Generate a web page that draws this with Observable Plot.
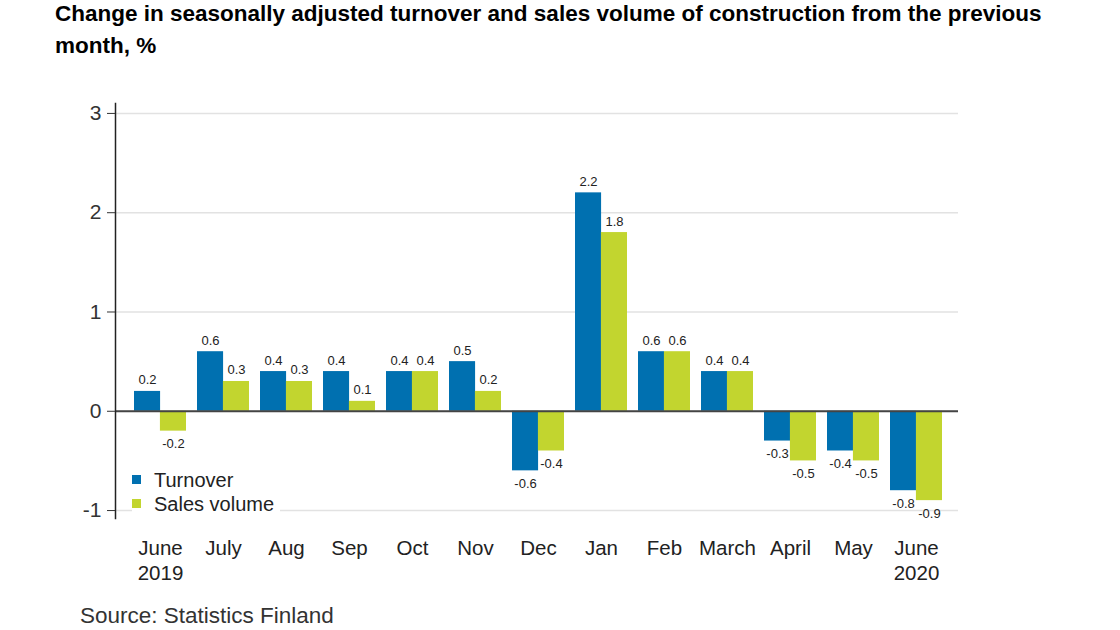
<!DOCTYPE html>
<html>
<head>
<meta charset="utf-8">
<script src="https://cdn.jsdelivr.net/npm/d3@7"></script>
<script src="https://cdn.jsdelivr.net/npm/@observablehq/plot@0.6"></script>
<style>
  html, body { margin: 0; padding: 0; background: #fff; }
  body { width: 1120px; height: 630px; position: relative; overflow: hidden; font-family: "Liberation Sans", Arial, sans-serif; }
  #title { position: absolute; left: 55px; top: -2px; width: 1030px; font-size: 22.5px; font-weight: bold; line-height: 32px; color: #000; }
  #chart { position: absolute; left: 0; top: 80px; }
  #legend { position: absolute; left: 132px; top: 468px; background: #fff; padding: 0 6px 0 0; font-size: 20px; color: #222; line-height: 24px; }
  #legend .sw { display: inline-block; width: 9px; height: 9px; margin-right: 13px; vertical-align: 3px; }
  #source { position: absolute; left: 80px; top: 603px; font-size: 22.5px; color: #333; }
</style>
</head>
<body>
<div id="title">Change in seasonally adjusted turnover and sales volume of construction from the previous month, %</div>
<div id="chart"></div>
<div id="legend"></div>
<div id="source">Source: Statistics Finland</div>
<script>
const months = ["June\n2019", "July", "Aug", "Sep", "Oct", "Nov", "Dec", "Jan", "Feb", "March", "April", "May", "June\n2020"];
const turnover = [0.2, 0.6, 0.4, 0.4, 0.4, 0.5, -0.6, 2.2, 0.6, 0.4, -0.3, -0.4, -0.8];
const salesVolume = [-0.2, 0.3, 0.3, 0.1, 0.4, 0.2, -0.4, 1.8, 0.6, 0.4, -0.5, -0.5, -0.9];
const seriesNames = ["Turnover", "Sales volume"];
const seriesColors = ["#0070b0", "#c2d52f"];
const yTicks = [-1, 0, 1, 2, 3];

const rows = [];
months.forEach((m, i) => {
  rows.push({month: m, series: seriesNames[0], value: turnover[i]});
  rows.push({month: m, series: seriesNames[1], value: salesVolume[i]});
});

const W = 1120, H = 510;
const mL = 115, mR = 162, inL = 6, inR = 4, pad = 0.18;
const step = (W - mL - mR - inL - inR) / (months.length - pad + 2 * pad);
const half = step * (1 - pad) / 2;

const isT = d => d.series === seriesNames[0];
const tRows = rows.filter(isT), sRows = rows.filter(d => !isT(d));

const fmt = v => v.toFixed(1);
const lbl = {fontSize: 13, fill: "#222"};

const chart = Plot.plot({
  width: W,
  height: H,
  marginLeft: mL,
  marginRight: mR,
  marginTop: 23,
  marginBottom: 72,
  insetLeft: inL,
  insetRight: inR,
  style: {fontFamily: "'Liberation Sans', Arial, sans-serif", background: "#fff"},
  x: {domain: months, padding: pad, label: null},
  y: {domain: [-1.08, 3.1], label: null},
  color: {domain: seriesNames, range: seriesColors},
  marks: [
    Plot.gridY(yTicks, {stroke: "#e2e2e2", strokeOpacity: 1, strokeWidth: 1.5}),
    Plot.barY(tRows, {x: "month", y: "value", fill: "series", insetRight: half}),
    Plot.barY(sRows, {x: "month", y: "value", fill: "series", insetLeft: half}),
    Plot.ruleY([0], {stroke: "#444", strokeWidth: 2}),
    Plot.frame({anchor: "left", stroke: "#222", strokeWidth: 1.5}),
    Plot.axisY(yTicks, {tickSize: 8, tickPadding: 6, fontSize: 21, fill: "#333", stroke: "#333", tickFormat: d => String(d)}),
    Plot.axisX({tickSize: 0, tickPadding: 19, fontSize: 20.5, fill: "#222", lineHeight: 1.2, textAnchor: "middle"}),
    Plot.text(tRows, {x: "month", y: "value", text: d => fmt(d.value), dx: -half / 2, lineAnchor: "bottom", filter: d => d.value >= 0, dy: -7, ...lbl}),
    Plot.text(tRows, {x: "month", y: "value", text: d => fmt(d.value), dx: -half / 2, lineAnchor: "top", filter: d => d.value < 0, dy: 8, ...lbl}),
    Plot.text(sRows, {x: "month", y: "value", text: d => fmt(d.value), dx: half / 2, lineAnchor: "bottom", filter: d => d.value >= 0, dy: -7, ...lbl}),
    Plot.text(sRows, {x: "month", y: "value", text: d => fmt(d.value), dx: half / 2, lineAnchor: "top", filter: d => d.value < 0, dy: 8, ...lbl})
  ]
});
document.getElementById("chart").appendChild(chart);

const leg = document.getElementById("legend");
seriesNames.forEach((n, i) => {
  const row = document.createElement("div");
  row.innerHTML = `<span class="sw" style="background:${seriesColors[i]}"></span>${n}`;
  leg.appendChild(row);
});
</script>
</body>
</html>
